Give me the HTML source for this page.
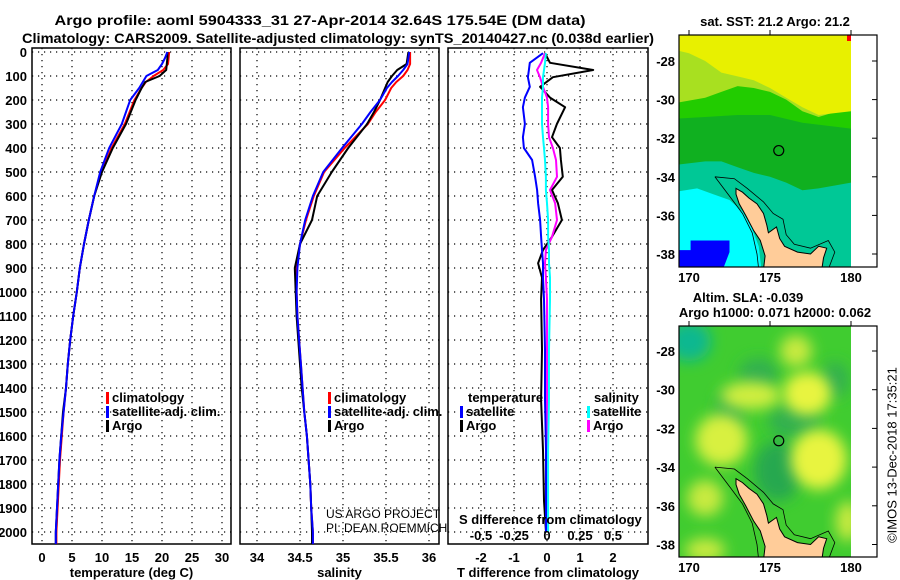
<!DOCTYPE html>
<html><head><meta charset="utf-8"><style>
html,body{margin:0;padding:0;background:#fff;}
svg{display:block;font-family:"Liberation Sans",sans-serif;}
.b{font-weight:bold;font-size:13px;}
.t{font-weight:bold;font-size:14px;}
</style></head><body>
<svg id="fig" width="900" height="580" viewBox="0 0 900 580" xmlns="http://www.w3.org/2000/svg">
<defs>
<filter id="blur" x="-50%" y="-50%" width="200%" height="200%"><feGaussianBlur stdDeviation="7"/></filter>
<clipPath id="clipTop"><rect x="679" y="35" width="172" height="232"/></clipPath>
<clipPath id="clipBot"><rect x="679" y="326" width="172" height="231"/></clipPath>
</defs>
<text class="t" x="320" y="25" text-anchor="middle" textLength="531" lengthAdjust="spacingAndGlyphs">Argo profile: aoml 5904333_31 27-Apr-2014 32.64S 175.54E (DM data)</text>
<text class="t" x="338" y="43" text-anchor="middle" textLength="632" lengthAdjust="spacingAndGlyphs">Climatology: CARS2009. Satellite-adjusted climatology: synTS_20140427.nc (0.038d earlier)</text>
<g id="plots"></g>
<g id="maps"></g>
<text x="893" y="455" font-size="13" transform="rotate(-90 893 455)" text-anchor="middle" dominant-baseline="middle">©IMOS 13-Dec-2018 17:35:21</text>
</svg>
<script>
// ---- data ----
const depths = [0,25,50,75,100,125,150,200,250,300,400,500,600,700,800,900,1000,1100,1200,1300,1400,1500,1600,1700,1800,1900,2000,2050];
const tempArgo = [20.9,20.9,20.8,20.7,19.6,17.2,16.6,15.6,14.8,14.0,11.8,10.0,8.7,7.8,7.0,6.3,5.8,5.2,4.7,4.3,4.0,3.5,3.2,2.9,2.7,2.5,2.3,2.3];
const tempClim = [21.2,21.1,21.0,20.2,18.6,17.3,16.6,15.4,14.6,13.8,11.6,9.9,8.7,7.8,7.0,6.3,5.8,5.2,4.7,4.3,4.0,3.6,3.3,3.0,2.8,2.6,2.4,2.4];
const tempSat = [20.9,20.5,20.0,19.3,17.4,16.8,16.2,14.7,14.0,13.3,11.2,9.7,8.7,7.8,7.0,6.3,5.8,5.2,4.7,4.3,4.0,3.6,3.2,2.9,2.7,2.5,2.3,2.3];
const salArgo = [35.76,35.75,35.74,35.63,35.57,35.52,35.49,35.43,35.36,35.28,35.06,34.87,34.70,34.64,34.50,34.44,34.45,34.46,34.48,34.50,34.52,34.55,34.58,34.60,34.62,34.63,34.64,34.64];
const salClim = [35.78,35.78,35.78,35.75,35.70,35.62,35.56,35.49,35.38,35.29,35.02,34.78,34.66,34.57,34.50,34.46,34.46,34.47,34.49,34.51,34.53,34.55,34.58,34.60,34.62,34.63,34.65,34.65];
const salSat = [35.77,35.76,35.75,35.70,35.64,35.57,35.51,35.43,35.32,35.22,34.99,34.77,34.65,34.56,34.50,34.47,34.46,34.47,34.49,34.51,34.53,34.55,34.58,34.60,34.62,34.63,34.65,34.65];
const diffDepths = [5,45,75,105,145,190,230,300,355,400,450,520,575,630,700,770,825,880,940,1030,1240,1450,1660,1870,2000];
const tDiffArgo = [-0.06,0.09,1.40,0.18,-0.21,0.09,0.55,0.30,0.15,0.39,0.42,0.48,0.15,0.33,0.45,0.15,-0.12,-0.27,-0.15,-0.18,-0.15,-0.18,-0.12,-0.09,-0.03];
const tDiffSat = [-0.12,-0.52,-0.55,-0.58,-0.52,-0.67,-0.73,-0.67,-0.73,-0.70,-0.45,-0.36,-0.30,-0.27,-0.21,-0.18,-0.15,-0.12,-0.12,-0.09,-0.06,-0.06,-0.03,-0.03,-0.03];
const sDiffArgo = [-0.015,-0.045,-0.076,-0.053,-0.03,0,0.008,0.008,0.015,0.045,0.068,0.076,0.023,0.061,0.076,0.038,-0.008,-0.015,-0.008,0,0,0,0,0,0];
const sDiffSat = [-0.008,-0.015,-0.023,-0.03,-0.03,-0.038,-0.038,-0.038,-0.03,-0.023,-0.015,-0.008,-0.008,0,0.008,0.008,0.015,0.015,0.023,0.023,0.015,0.015,0.008,0.008,0.008];
const depthTicks = [0,100,200,300,400,500,600,700,800,900,1000,1100,1200,1300,1400,1500,1600,1700,1800,1900,2000];
const tempTicks = [0,5,10,15,20,25,30];
const salTicks = [34,34.5,35,35.5,36];
const tdTicks = [-2,-1,0,1,2];
const sdTicks = [-0.5,-0.25,0,0.25,0.5];
const sdTickLabels = ['-0.5','-0.25','0','0.25','0.5'];
const latTicks = [-28,-30,-32,-34,-36,-38];
const lonTicks = [170,175,180];
const argoLon = 175.54, argoLat = -32.64;

const NS='http://www.w3.org/2000/svg';
function mk(tag, attrs, parent, text){const e=document.createElementNS(NS,tag);for(const k in attrs)e.setAttribute(k,attrs[k]);if(text!==undefined)e.textContent=text;parent.appendChild(e);return e;}
const plots=document.getElementById('plots');
const Y=d=>52+d*0.24;
const PT=48, PB=544;

function panel(name,x0,x1,ticks,labels,xf,title){
  const g=mk('g',{},plots);
  
  
  depthTicks.forEach(d=>{const l=mk('line',{x1:x0,x2:x1,y1:Y(d),y2:Y(d),stroke:'#000','stroke-width':1.2,'stroke-dasharray':'1.2 4.8'},g);
    });
  ticks.forEach((v,i)=>{const x=xf(v);
    const l=mk('line',{x1:x,x2:x,y1:PT,y2:PB,stroke:'#000','stroke-width':1.2,'stroke-dasharray':'1.2 4.8'},g);
    
    const t=mk('text',{x:x,y:562,'text-anchor':'middle',class:'b'},g,labels?labels[i]:String(v));
    });
  const r=mk('rect',{x:x0,y:PT,width:x1-x0,height:PB-PT,fill:'none',stroke:'#000','stroke-width':1.5},g);
  
  const tt=mk('text',{x:(x0+x1)/2,y:577,'text-anchor':'middle',class:'b'},g,title);
  
  return g;
}
function line(g,xs,ds,xf,color,name,w){
  const pts=xs.map((v,i)=>xf(v).toFixed(1)+','+Y(ds[i]).toFixed(1)).join(' ');
  const p=mk('polyline',{points:pts,fill:'none',stroke:color,'stroke-width':w||2,'stroke-linejoin':'round'},g);
  
}
function legendItem(g,x,y,color,label,name){
  const r=mk('rect',{x:x,y:y-10,width:3,height:12,fill:color},g);
  
  const t=mk('text',{x:x+6,y:y,class:'b','font-size':'12'},g,label);
  
}
depthTicks.forEach(d=>{const t=mk('text',{x:27,y:Y(d)+5,'text-anchor':'end',class:'b'},plots,String(d));
  });

const xT=v=>42+v*6;
const g1=panel('temperature',32,231,tempTicks,null,xT,'temperature (deg C)');
line(g1,tempClim,depths,xT,'#ff0000','climatology-temp-line');
line(g1,tempArgo,depths,xT,'#000000','argo-temp-line');
line(g1,tempSat,depths,xT,'#0000ff','satellite-temp-line');
legendItem(g1,106,402,'#ff0000','climatology','legend-climatology');
legendItem(g1,106,416,'#0000ff','satellite-adj. clim.','legend-satellite');
legendItem(g1,106,430,'#000000','Argo','legend-argo');

const xS=v=>257+(v-34)*86;
const g2=panel('salinity',240,439,salTicks,null,xS,'salinity');
line(g2,salClim,depths,xS,'#ff0000','climatology-salinity-line');
line(g2,salArgo,depths,xS,'#000000','argo-salinity-line');
line(g2,salSat,depths,xS,'#0000ff','satellite-salinity-line');
legendItem(g2,328,402,'#ff0000','climatology','legend2-climatology');
legendItem(g2,328,416,'#0000ff','satellite-adj. clim.','legend2-satellite');
legendItem(g2,328,430,'#000000','Argo','legend2-argo');
let c1=mk('text',{x:326,y:518,'font-size':'12',fill:'#000'},g2,'US ARGO PROJECT');

let c2=mk('text',{x:326,y:532,'font-size':'12',fill:'#000'},g2,'PI: DEAN ROEMMICH');


const xTD=v=>547+v*33;
const xSD=v=>547+v*132;
const g3=panel('difference',448,648,tdTicks,null,xTD,'T difference from climatology');
line(g3,tDiffArgo,diffDepths,xTD,'#000000','argo-t-diff-line');
line(g3,sDiffArgo,diffDepths,xSD,'#ff00ff','argo-s-diff-line');
line(g3,sDiffSat,diffDepths,xSD,'#00ffff','satellite-s-diff-line');
line(g3,tDiffSat,diffDepths,xTD,'#0000ff','satellite-t-diff-line');
sdTicks.forEach((v,i)=>{const t=mk('text',{x:xSD(v),y:540,'text-anchor':'middle',class:'b'},g3,sdTickLabels[i]);
  });
let sdt=mk('text',{x:459,y:524,class:'b'},g3,'S difference from climatology');

let lt=mk('text',{x:468,y:402,class:'b','font-size':'12'},g3,'temperature');

let ls=mk('text',{x:594,y:402,class:'b','font-size':'12'},g3,'salinity');

legendItem(g3,460,416,'#0000ff','satellite','legend-t-satellite');
legendItem(g3,460,430,'#000000','Argo','legend-t-argo');
legendItem(g3,587,416,'#00ffff','satellite','legend-s-satellite');
legendItem(g3,587,430,'#ff00ff','Argo','legend-s-argo');

// ---- maps ----
const maps=document.getElementById('maps');
const lonX=l=>689+(l-170)*16.2;
const land=[[172.9,-34.6],[173.3,-34.8],[173.7,-35.1],[174.2,-35.4],[174.6,-35.9],[174.8,-36.5],[174.9,-36.9],[175.4,-36.6],[175.6,-37.2],[175.9,-37.6],[176.7,-37.9],[177.5,-38.0],[178.0,-37.6],[178.5,-37.7],[178.3,-38.2],[178.2,-38.8],[174.6,-38.8],[174.7,-38.1],[174.4,-37.3],[174.0,-36.8],[173.5,-36.0],[173.1,-35.4],[172.9,-34.9]];
const contour=[[171.6,-34.0],[172.8,-34.1],[173.6,-34.6],[174.6,-35.3],[175.2,-35.9],[175.8,-36.2],[176.0,-37.0],[176.5,-37.5],[177.5,-37.7],[178.6,-37.3],[179.0,-37.9],[178.6,-38.8]];
const contourW=[[171.6,-34.0],[172.5,-35.0],[173.3,-35.9],[173.9,-36.9],[174.2,-38.0],[174.3,-38.8]];
function mapFrame(name,top,bot,latY,clip,drawFill){
  const g=mk('g',{},maps);
  
  const fg=mk('g',{'clip-path':'url(#'+clip+')'},g);
  drawFill(fg,latY);
  const poly=pts=>pts.map(p=>lonX(p[0]).toFixed(1)+','+latY(p[1]).toFixed(1)).join(' ');
  const cw=mk('polyline',{points:poly(contourW),fill:'none',stroke:'#000','stroke-width':0.8},fg);
  
  const ce=mk('polyline',{points:poly(contour),fill:'none',stroke:'#000','stroke-width':0.8},fg);
  
  const L=mk('polygon',{points:poly(land),fill:'#ffcc99',stroke:'#000','stroke-width':1},fg);
  
  const f=mk('rect',{x:679,y:top,width:198,height:bot-top,fill:'none',stroke:'#000','stroke-width':1.2},g);
  
  latTicks.forEach(a=>{const y=latY(a);
    mk('line',{x1:877,x2:872,y1:y,y2:y,stroke:'#000'},g);
    const t=mk('text',{x:675,y:y+5,'text-anchor':'end',class:'b'},g,String(a));
    });
  lonTicks.forEach(l=>{const x=lonX(l);
    mk('line',{x1:x,x2:x,y1:top,y2:top-5,stroke:'#000'},g);
    const t=mk('text',{x:x,y:bot+15,'text-anchor':'middle',class:'b'},g,String(l));
    });
  const c=mk('circle',{cx:lonX(argoLon),cy:latY(argoLat),r:5,fill:'none',stroke:'#000','stroke-width':1.2},g);
  
  return g;
}
const latTop=a=>61+(-28-a)*19.3;
mapFrame('sst-map',35,267,latTop,'clipTop',(g,ly)=>{
  const P=pts=>pts.map(p=>lonX(p[0]).toFixed(1)+','+ly(p[1]).toFixed(1)).join(' ');
  mk('rect',{x:679,y:35,width:172,height:232,fill:'#00c896'},g);
  mk('polygon',{points:P([[169,-26],[181,-26],[180,-34.3],[178,-34.6],[177,-34.7],[176,-34.3],[175,-34.0],[174,-33.8],[173,-33.5],[172,-33.2],[171,-33.2],[169,-33.4]]),fill:'#10b020'},g);
  mk('polygon',{points:P([[169,-26],[181,-26],[180,-31.5],[177,-31.2],[175,-30.8],[173,-30.8],[171,-30.9],[169,-31.0]]),fill:'#22cc00'},g);
  mk('polygon',{points:P([[169,-26],[181,-26],[180,-30.4],[178,-30.9],[177,-30.6],[176,-30.0],[175,-29.6],[174,-29.4],[173,-29.3],[172,-29.6],[171,-29.9],[169,-30.2]]),fill:'#a8e020'},g);
  mk('polygon',{points:P([[169,-26],[181,-26],[180,-30.6],[178,-30.8],[177,-30.4],[176,-29.9],[175,-29.4],[174,-29.0],[173,-28.8],[172,-28.6],[171,-28.0],[170,-27.6],[169,-27.4]]),fill:'#e8f000'},g);
  mk('polygon',{points:P([[169,-34.8],[170.5,-34.6],[171.5,-34.9],[172.5,-35.2],[173.3,-35.8],[173.9,-36.7],[174.3,-37.6],[174.5,-39],[169,-39]]),fill:'#00ffff'},g);
  mk('polygon',{points:P([[170.1,-37.3],[172.5,-37.3],[172.5,-37.9],[172,-39],[169,-39],[169,-37.8],[170.1,-37.8]]),fill:'#0000ff'},g);
  mk('rect',{x:847,y:35,width:5,height:6,fill:'#ff0000'},g);
});
const ttl1=mk('text',{x:775,y:26,'text-anchor':'middle',class:'b'},maps,'sat. SST: 21.2 Argo: 21.2');


const latBot=a=>351+(-28-a)*19.35;
mapFrame('sla-map',326,557,latBot,'clipBot',(g,ly)=>{
  mk('rect',{x:679,y:326,width:172,height:231,fill:'#40cc30'},g);
  const blobs=[[170,-27.5,22,20,'#10b890'],[174.3,-29.2,20,16,'#30b050'],[176.5,-31.6,26,18,'#30b050'],[175.5,-34.2,24,30,'#28a850'],[172.5,-31.2,14,22,'#30b050'],[179,-29.5,14,18,'#30b050'],
    [172,-32.6,26,26,'#d8f040'],[173.8,-30.3,30,14,'#d0ee40'],[177.3,-30.2,24,22,'#e8f440'],[178,-33.6,28,30,'#e8f440'],[171,-35.6,18,18,'#c8ea40'],[176.6,-28.0,16,16,'#c8ea40'],[179.8,-36.8,12,20,'#c8ea40'],[171,-38.3,20,12,'#c8ea40']];
  blobs.forEach(b=>{mk('ellipse',{cx:lonX(b[0]),cy:ly(b[1]),rx:b[2],ry:b[3],fill:b[4],filter:'url(#blur)'},g);});
});
const ttl2=mk('text',{x:748,y:302,'text-anchor':'middle',class:'b'},maps,'Altim. SLA: -0.039');

const ttl3=mk('text',{x:775,y:317,'text-anchor':'middle',class:'b'},maps,'Argo h1000: 0.071 h2000: 0.062');

</script>
</body></html>
